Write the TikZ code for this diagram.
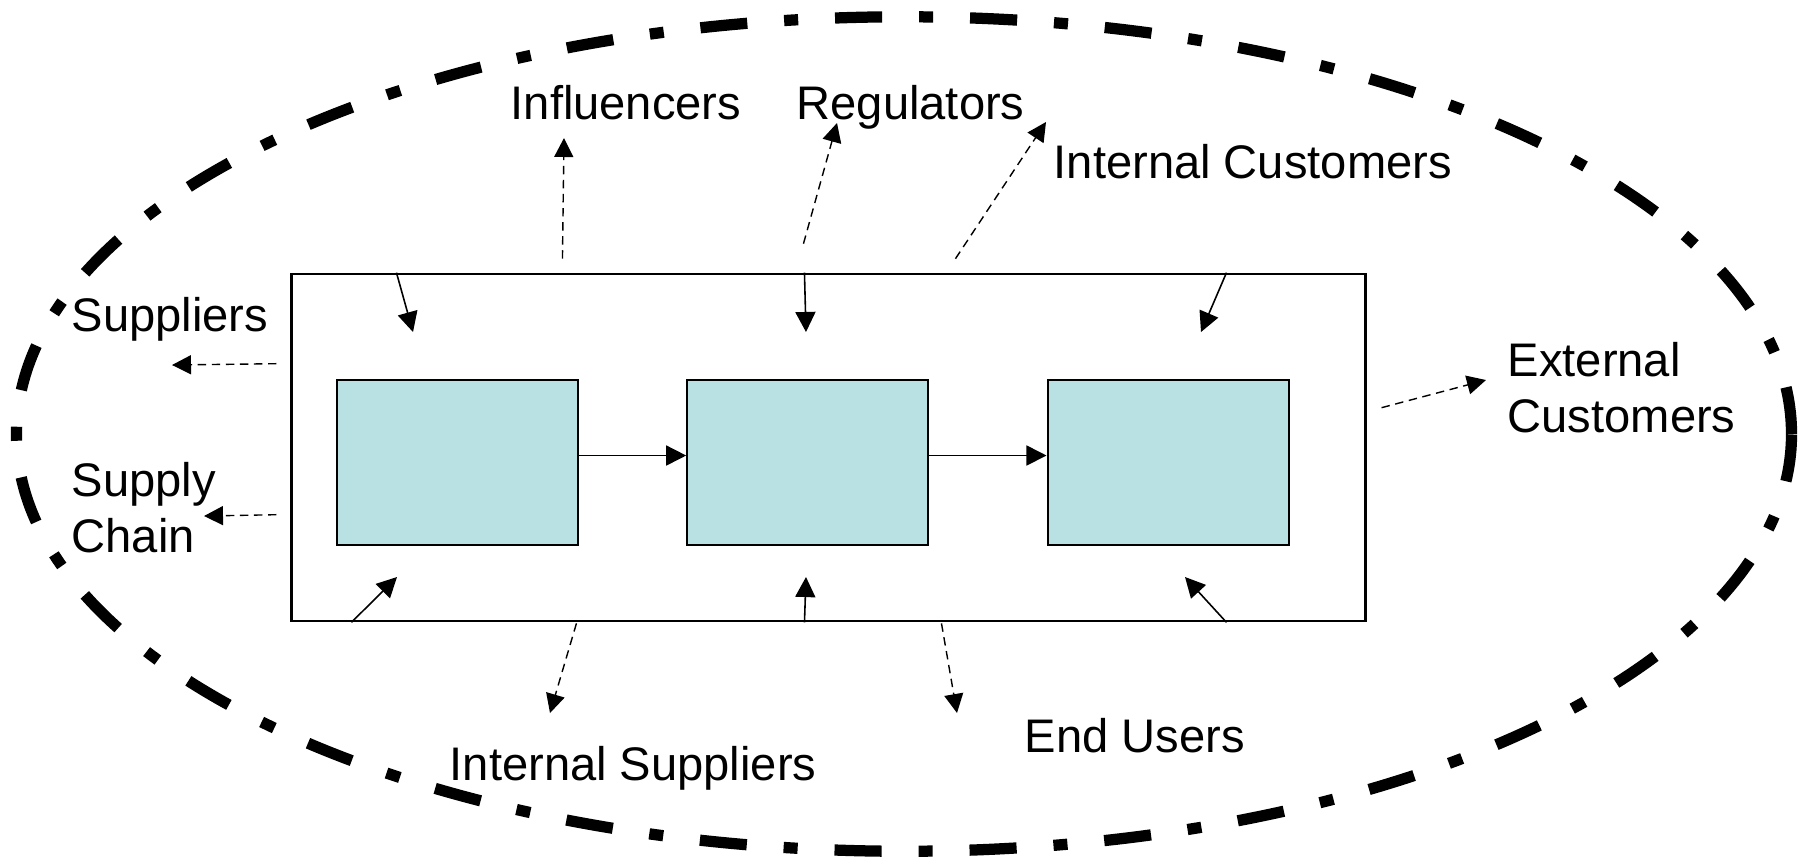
\documentclass[tikz,border=0pt]{standalone}
\usepackage{fontspec}
\setmainfont{Liberation Sans}
\usepackage{xcolor}
\definecolor{stagefill}{RGB}{185,224,227}
\usepackage{tikz}
\usetikzlibrary{arrows.meta,positioning}
\tikzset{
  sysbox/.style={draw, line width=0.7pt, minimum width=10.73cm, minimum height=3.47cm, inner sep=0pt},
  stagebox/.style={draw, line width=0.6pt, fill=stagefill, minimum width=2.41cm, minimum height=1.65cm, inner sep=0pt},
  flow/.style={-{Triangle[length=5.7pt,width=5.7pt]}, line width=0.45pt},
  link/.style={-{Triangle[length=5.4pt,width=5.4pt]}, line width=0.4pt, dash pattern=on 2.4pt off 1.6pt},
  party/.style={font=\fontsize{13.4}{15.9}\selectfont, inner sep=0pt, anchor=base west, align=left},
  scopeline/.style={line width=3.2pt, dash pattern=on 13.4pt off 10.5pt on 4pt off 10.5pt}
}

\begin{document}
\begin{tikzpicture}[x=0.01cm, y=-0.01cm]
  \useasboundingbox (0,0) rectangle (1803,856);
  % wider environment
  \draw[scopeline] (904,434) ellipse [x radius=8.87cm, y radius=4.17cm];

  % the process and its three stages
  \node[sysbox] (sys) at (828.5,447.5) {};
  \node[stagebox] (p1) at (457.5,462.5) {};
  \node[stagebox, right=1.07cm of p1] (p2) {};
  \node[stagebox, right=1.17cm of p2] (p3) {};
  \draw[flow] ([yshift=0.07cm]p1.east) -- ([yshift=0.07cm]p2.west);
  \draw[flow] ([yshift=0.07cm]p2.east) -- ([yshift=0.07cm]p3.west);

  % stakeholders
  \node[party] (infl) at (510,119) {Influencers};
  \node[party] (regu) at (796,119) {Regulators};
  \node[party] (intc) at (1053,178) {Internal Customers};
  \node[party] (supp) at (71,331) {Suppliers};
  \node[party, anchor=west] (chain) at (71,508) {Supply\\Chain};
  \node[party, anchor=west] (extc) at (1507,388) {External\\Customers};
  \node[party] (ints) at (449,780) {Internal Suppliers};
  \node[party] (endu) at (1024,752) {End Users};

  % influences entering the frame
  \coordinate (in1) at (413,332);
  \coordinate (in2) at (806,332);
  \coordinate (in3) at (1201,332);
  \coordinate (in4) at (397,577);
  \coordinate (in5) at (806,577);
  \coordinate (in6) at (1185,577);
  \draw[flow] (sys.north west) ++(106,0) -- (in1);
  \draw[flow] (sys.north west) ++(514,0) -- (in2);
  \draw[flow] (sys.north west) ++(936,0) -- (in3);
  \draw[flow] (sys.south west) ++(61,0) -- (in4);
  \draw[flow] (sys.south west) ++(514,0) -- (in5);
  \draw[flow] (sys.south west) ++(936,0) -- (in6);

  % links out to the stakeholders
  \coordinate (to-infl) at (564,138);
  \coordinate (to-regu) at (837,123);
  \coordinate (to-intc) at (1046,122);
  \coordinate (to-supp) at (172,365);
  \coordinate (to-chain) at (204,516);
  \coordinate (to-extc) at (1486,380);
  \coordinate (to-ints) at (550,713);
  \coordinate (to-endu) at (957,713);
  \draw[link] (sys.north west) ++(272,-14) -- (to-infl);
  \draw[link] (sys.north west) ++(513,-29) -- (to-regu);
  \draw[link] (sys.north west) ++(665,-14) -- (to-intc);
  \draw[link] (sys.north west) ++(-14,91) -- (to-supp);
  \draw[link] (sys.north west) ++(-14,242) -- (to-chain);
  \draw[link] (sys.north east) ++(15,135) -- (to-extc);
  \draw[link] (sys.south west) ++(286,1) -- (to-ints);
  \draw[link] (sys.south west) ++(651,1) -- (to-endu);
\end{tikzpicture}
\end{document}
